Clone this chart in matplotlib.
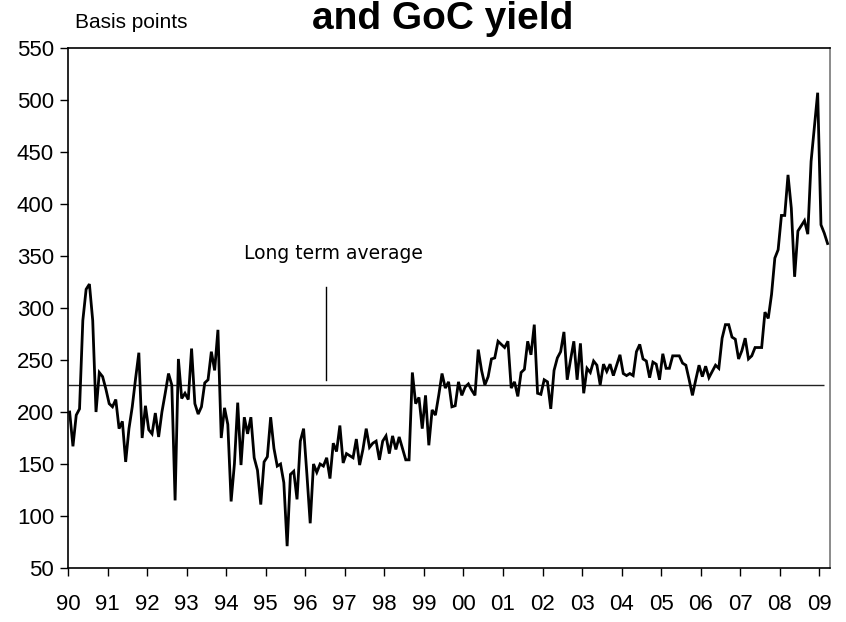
import numpy as np
import matplotlib
matplotlib.use("Agg")
import matplotlib.pyplot as plt

# Monthly spread, basis points, Jan 1990 - Mar 2009
spread_1990 = [200, 167, 197, 203, 288, 318, 323, 288, 200, 238, 234, 222]
spread_1991 = [208, 205, 212, 184, 191, 152, 184, 205, 232, 257, 175, 206]
spread_1992 = [183, 179, 199, 176, 200, 218, 237, 226, 115, 251, 213, 218]
spread_1993 = [212, 261, 208, 198, 205, 228, 231, 258, 240, 279, 175, 204]
spread_1994 = [188, 114, 150, 209, 149, 195, 179, 195, 156, 144, 111, 152]
spread_1995 = [157, 195, 165, 148, 150, 132, 71, 140, 143, 116, 172, 184]
spread_1996 = [140, 93, 150, 142, 150, 148, 156, 136, 170, 162, 187, 151]
spread_1997 = [160, 158, 156, 174, 149, 164, 184, 166, 170, 172, 154, 172]
spread_1998 = [177, 160, 177, 164, 176, 165, 154, 154, 238, 208, 214, 184]
spread_1999 = [216, 168, 202, 197, 216, 237, 223, 229, 205, 206, 229, 216]
spread_2000 = [224, 227, 221, 216, 260, 240, 226, 234, 251, 252, 268, 265]
spread_2001 = [262, 268, 223, 229, 215, 238, 241, 268, 255, 284, 218, 217]
spread_2002 = [231, 229, 203, 240, 252, 258, 277, 231, 250, 268, 231, 266]
spread_2003 = [218, 242, 238, 249, 245, 226, 246, 239, 246, 235, 245, 255]
spread_2004 = [237, 235, 237, 235, 258, 265, 251, 249, 233, 248, 246, 231]
spread_2005 = [256, 242, 242, 254, 254, 254, 247, 245, 231, 216, 231, 245]
spread_2006 = [234, 244, 233, 239, 245, 242, 271, 284, 284, 272, 270, 251]
spread_2007 = [259, 271, 251, 254, 262, 262, 262, 296, 290, 313, 348, 356]
spread_2008 = [389, 389, 428, 396, 330, 374, 379, 384, 371, 441, 474, 507]
spread_2009 = [380, 372, 362]

long_term_average = 226

year_labels = ["90", "91", "92", "93", "94", "95", "96", "97", "98", "99",
               "00", "01", "02", "03", "04", "05", "06", "07", "08", "09"]
y_ticks = [50, 100, 150, 200, 250, 300, 350, 400, 450, 500, 550]

spread = np.array(
    spread_1990 + spread_1991 + spread_1992 + spread_1993 + spread_1994
    + spread_1995 + spread_1996 + spread_1997 + spread_1998 + spread_1999
    + spread_2000 + spread_2001 + spread_2002 + spread_2003 + spread_2004
    + spread_2005 + spread_2006 + spread_2007 + spread_2008 + spread_2009,
    dtype=float)
n = len(spread)
t = 1990 + (np.arange(n) + 0.5) / 12.0   # mid-month positions

sans = ["Liberation Sans", "DejaVu Sans"]

fig = plt.figure(figsize=(8.46, 6.22), dpi=100)
ax = fig.add_axes([68 / 846, 54 / 622, 762 / 846, 520 / 622])

ax.plot(t, spread, color="black", lw=2.0, solid_joinstyle="miter", zorder=3)
ax.hlines(long_term_average, 1990, t[-2], color="#222222", lw=1.0, zorder=2)

# leader from the label down to the average line
x_lead = 1996.53
ax.plot([x_lead, x_lead], [long_term_average + 5, 320], color="black", lw=1.0)
ax.text(1996.72, 352, "Long term average", ha="center", va="center",
        fontsize=13.5, family="DejaVu Sans", color="black")

ax.set_xlim(1990, 1990 + n / 12.0 + 0.02)
ax.set_ylim(50, 550)
years = np.arange(1990, 1990 + len(year_labels))
ax.set_xticks(years)
ax.set_xticklabels(year_labels)
ax.set_yticks(y_ticks)
ax.set_yticklabels([str(v) for v in y_ticks])

ax.tick_params(axis="x", direction="out", length=6, width=1, pad=13,
               labelsize=16)
ax.tick_params(axis="y", direction="out", length=6, width=1, pad=4,
               labelsize=16)
for lab in ax.get_xticklabels() + ax.get_yticklabels():
    lab.set_family(sans)

for side in ["left", "bottom", "top"]:
    ax.spines[side].set_color("black")
    ax.spines[side].set_linewidth(1.2)
ax.spines["right"].set_color("#777777")
ax.spines["right"].set_linewidth(1.2)

fig.text(131 / 846, 1 - 22 / 622, "Basis points", ha="center", va="center",
         fontsize=15, family=sans)
fig.text(443 / 846, 1 - 29 / 622, "and GoC yield", ha="center",
         va="baseline", fontsize=28, fontweight="bold", family=sans)

fig.savefig("out.png", dpi=100)
